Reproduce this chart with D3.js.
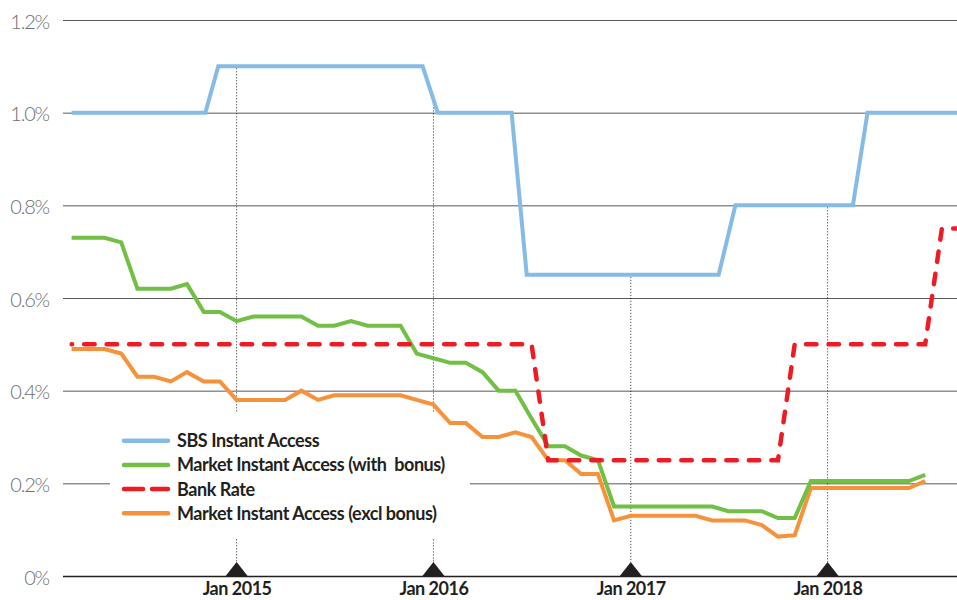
<!DOCTYPE html>
<html>
<head>
<meta charset="utf-8">
<script src="https://cdn.jsdelivr.net/npm/d3@7"></script>
<style>
  body { margin: 0; background: #fff; }
  svg { display: block; }
  .ylab text { font-family: Lato, "Open Sans", sans-serif; font-weight: 300; font-size: 20px; letter-spacing: -1.2px; fill: #6d6e71; }
  .xlab text { font-family: Lato, sans-serif; font-weight: 700; font-size: 18px; letter-spacing: -0.5px; fill: #231f20; }
  .legend text { font-family: Lato, sans-serif; font-weight: 700; font-size: 18px; letter-spacing: -0.45px; fill: #231f20; white-space: pre; }
</style>
</head>
<body>
<div id="chart"></div>
<script>
const width = 957;
const height = 600;

// monthly series, first point Mar 2014
const firstMonth = new Date(2014, 2, 1);

const greenValues = [
  0.73, 0.73, 0.73, 0.72, 0.62, 0.62, 0.62, 0.63, 0.57, 0.57,
  0.55, 0.56, 0.56, 0.56, 0.56, 0.54, 0.54, 0.55, 0.54, 0.54, 0.54, 0.48,
  0.47, 0.46, 0.46, 0.44, 0.40, 0.40, 0.34, 0.28, 0.28, 0.26, 0.25, 0.15,
  0.15, 0.15, 0.15, 0.15, 0.15, 0.15, 0.14, 0.14, 0.14, 0.125, 0.125, 0.205,
  0.205, 0.205, 0.205, 0.205, 0.205, 0.205, 0.218
];

const orangeValues = [
  0.49, 0.49, 0.49, 0.48, 0.43, 0.43, 0.42, 0.44, 0.42, 0.42,
  0.38, 0.38, 0.38, 0.38, 0.40, 0.38, 0.39, 0.39, 0.39, 0.39, 0.39, 0.38,
  0.37, 0.33, 0.33, 0.30, 0.30, 0.31, 0.30, 0.25, 0.25, 0.22, 0.22, 0.12,
  0.13, 0.13, 0.13, 0.13, 0.13, 0.12, 0.12, 0.12, 0.11, 0.085, 0.088, 0.19,
  0.19, 0.19, 0.19, 0.19, 0.19, 0.19, 0.205
];

const bankRateValues = [
  0.5, 0.5, 0.5, 0.5, 0.5, 0.5, 0.5, 0.5, 0.5, 0.5,
  0.5, 0.5, 0.5, 0.5, 0.5, 0.5, 0.5, 0.5, 0.5, 0.5, 0.5, 0.5,
  0.5, 0.5, 0.5, 0.5, 0.5, 0.5, 0.5, 0.25, 0.25, 0.25, 0.25, 0.25,
  0.25, 0.25, 0.25, 0.25, 0.25, 0.25, 0.25, 0.25, 0.25, 0.25, 0.5, 0.5,
  0.5, 0.5, 0.5, 0.5, 0.5, 0.5, 0.5, 0.75, 0.75
];

// SBS rate changes (own dates)
const sbsDates = ["2014-03-01", "2014-11-04", "2014-11-28", "2015-12-12", "2016-01-09", "2016-05-25",
                  "2016-06-22", "2017-06-13", "2017-07-14", "2018-02-17", "2018-03-16", "2018-09-01"];
const sbsValues = [1.0, 1.0, 1.1, 1.1, 1.0, 1.0, 0.65, 0.65, 0.8, 0.8, 1.0, 1.0];

const yTicks = [0, 0.2, 0.4, 0.6, 0.8, 1.0, 1.2];
const yTickLabels = ["0%", "0.2%", "0.4%", "0.6%", "0.8%", "1.0%", "1.2%"];
const xTickDates = ["2015-01-01", "2016-01-01", "2017-01-01", "2018-01-01"];
const xTickLabels = ["Jan 2015", "Jan 2016", "Jan 2017", "Jan 2018"];

const legendLabels = ["SBS Instant Access", "Market Instant Access (with  bonus)", "Bank Rate", "Market Instant Access (excl bonus)"];
const colors = { sbs: "#85bbe5", green: "#71bf44", red: "#ed1c24", orange: "#f7923c" };

const parse = d3.timeParse("%Y-%m-%d");
const months = d3.timeMonth.range(firstMonth, new Date(2018, 9, 1));

const x = d3.scaleTime()
  .domain([new Date(2014, 1, 13), new Date(2018, 7, 29)])
  .range([63, 957]);

const y = d3.scaleLinear()
  .domain([0, 1.2])
  .range([576, 20]);

const svg = d3.select("#chart")
  .append("svg")
  .attr("width", width)
  .attr("height", height);

svg.append("rect").attr("width", width).attr("height", height).attr("fill", "#fff");

// gridlines + y labels
const yAxis = svg.append("g")
  .attr("class", "ylab")
  .attr("transform", "translate(63,0)")
  .call(d3.axisLeft(y)
    .tickValues(yTicks)
    .tickSize(-894)
    .tickPadding(14)
    .tickFormat((d, i) => yTickLabels[i]));
yAxis.select(".domain").remove();
yAxis.selectAll(".tick line")
  .attr("stroke", d => d === 0 ? "#231f20" : "#58595b")
  .attr("stroke-width", d => d === 0 ? 1.6 : 1);
yAxis.selectAll(".tick text").attr("dy", 8);

const toPoints = (vals) => vals.map((v, i) => ({ date: months[i], value: v }));
const sbs = sbsDates.map((d, i) => ({ date: parse(d), value: sbsValues[i] }));
const green = toPoints(greenValues);
const orange = toPoints(orangeValues);
const bank = toPoints(bankRateValues);

// value of SBS line at a date, so the dotted line starts there
function sbsAt(date) {
  const i = d3.bisector(d => d.date).right(sbs, date);
  const a = sbs[i - 1], b = sbs[i];
  const t = (date - a.date) / (b.date - a.date);
  return a.value + t * (b.value - a.value);
}

const tickDates = xTickDates.map(parse);
const baseY = y(0);

// dotted year lines
svg.append("g")
  .selectAll("line")
  .data(tickDates)
  .enter()
  .append("line")
  .attr("x1", d => x(d))
  .attr("x2", d => x(d))
  .attr("y1", d => y(sbsAt(d)) + 2)
  .attr("y2", baseY - 14)
  .attr("stroke", "#231f20")
  .attr("stroke-width", 1)
  .attr("stroke-dasharray", "1,2");

// triangles
svg.append("g")
  .selectAll("path")
  .data(tickDates)
  .enter()
  .append("path")
  .attr("d", d => "M" + (x(d) - 11) + "," + baseY + "L" + x(d) + "," + (baseY - 14) + "L" + (x(d) + 11) + "," + baseY + "Z")
  .attr("fill", "#231f20");

// x labels
const xAxis = svg.append("g")
  .attr("class", "xlab")
  .attr("transform", "translate(0," + baseY + ")")
  .call(d3.axisBottom(x)
    .tickValues(tickDates)
    .tickSize(0)
    .tickPadding(6.5)
    .tickFormat((d, i) => xTickLabels[i]));
xAxis.select(".domain").remove();

// legend background blanks grid behind it
const legendX = 110, legendY = 413;
svg.append("rect")
  .attr("x", legendX)
  .attr("y", legendY)
  .attr("width", 360)
  .attr("height", 125)
  .attr("fill", "#fff");

const line = d3.line()
  .x(d => x(d.date))
  .y(d => y(d.value));

svg.append("path").datum(orange)
  .attr("d", line).attr("fill", "none")
  .attr("stroke", colors.orange).attr("stroke-width", 4);

svg.append("path").datum(green)
  .attr("d", line).attr("fill", "none")
  .attr("stroke", colors.green).attr("stroke-width", 4);

svg.append("path").datum(bank)
  .attr("d", line).attr("fill", "none")
  .attr("stroke", colors.red).attr("stroke-width", 4.5)
  .attr("stroke-linecap", "round")
  .attr("stroke-dasharray", "10.5,12")
  .attr("stroke-dashoffset", 10);

svg.append("path").datum(sbs)
  .attr("d", line).attr("fill", "none")
  .attr("stroke", colors.sbs).attr("stroke-width", 4);

// legend
const legendColors = [colors.sbs, colors.green, colors.red, colors.orange];
const legend = svg.append("g").attr("class", "legend");
const rows = legend.selectAll("g")
  .data(legendLabels)
  .enter()
  .append("g")
  .attr("transform", (d, i) => "translate(" + (legendX + 12) + "," + (legendY + 27.7 + i * 24.2) + ")");

rows.append("line")
  .attr("x1", 2).attr("x2", 46)
  .attr("stroke", (d, i) => legendColors[i])
  .attr("stroke-width", 4.5)
  .attr("stroke-linecap", "round")
  .attr("stroke-dasharray", (d, i) => i === 2 ? "19,9" : null);

rows.append("text")
  .attr("x", 55)
  .attr("y", 6.5)
  .text(d => d);
</script>
</body>
</html>
